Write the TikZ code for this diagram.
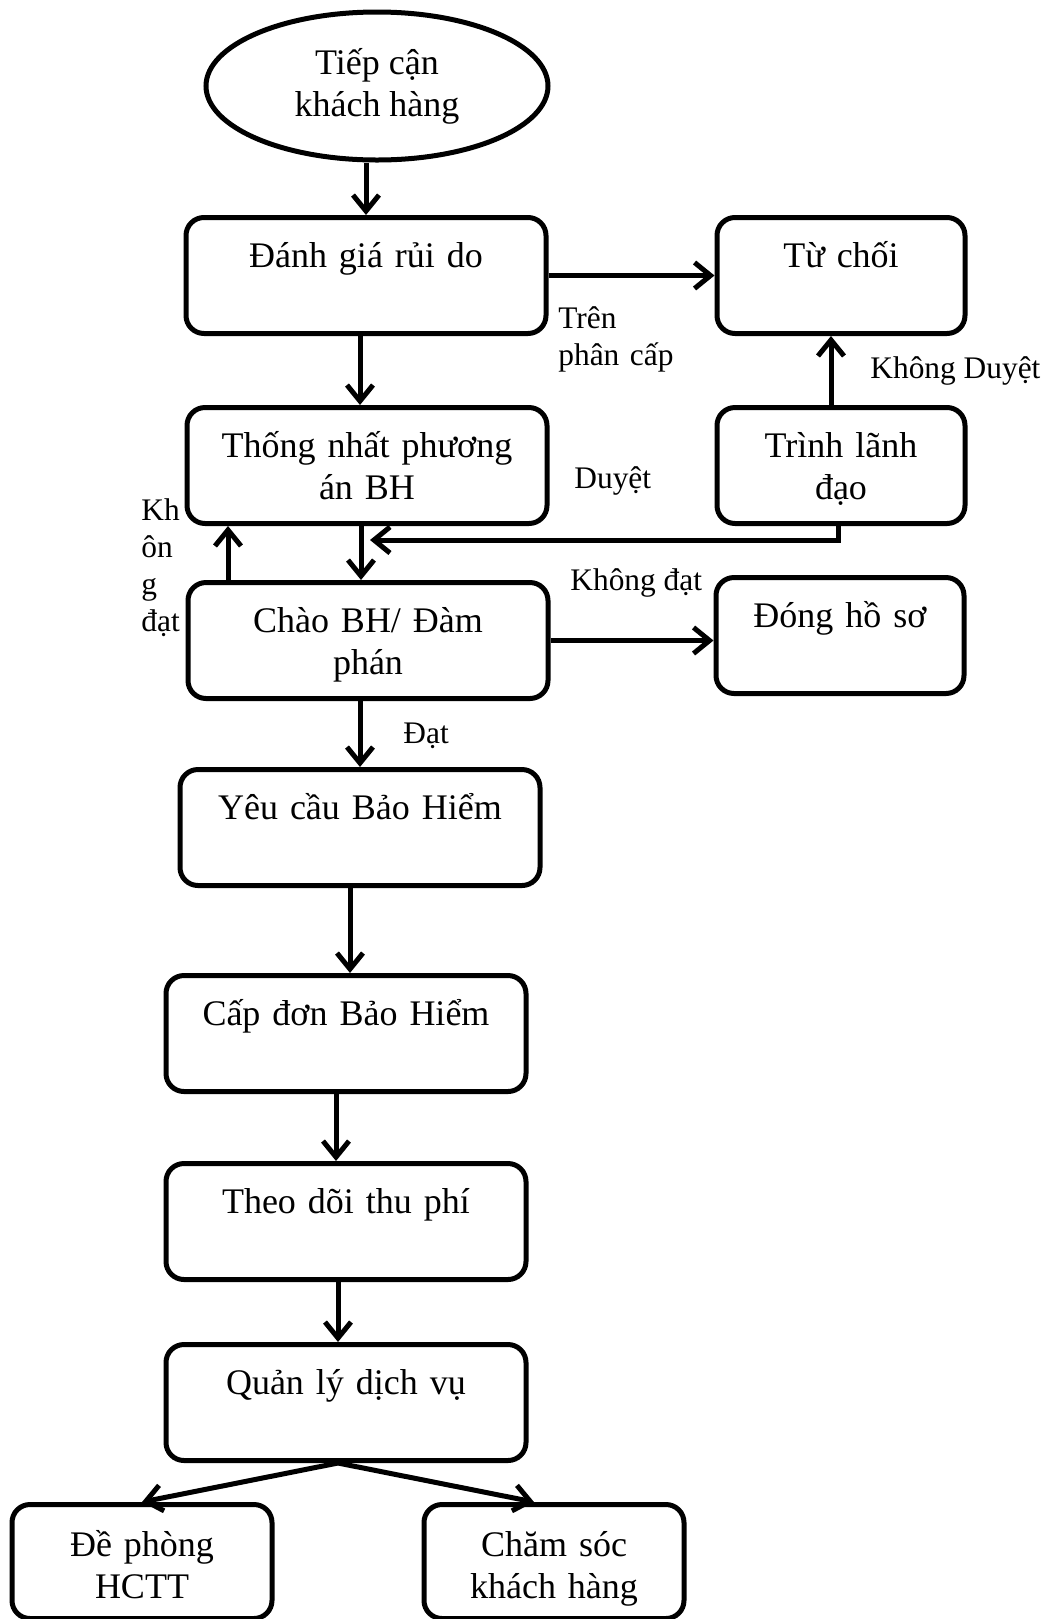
\documentclass[tikz,border=0pt]{standalone}
\usepackage{fontspec}
\setmainfont{Liberation Serif}
\usetikzlibrary{shapes.geometric,arrows.meta}
\newcommand{\stepfont}{\fontsize{18}{21}\selectfont}
\newcommand{\notefont}{\fontsize{15.7}{18.5}\selectfont}

\begin{document}
\begin{tikzpicture}
[x=0.5pt,y=-0.5pt,
 stepbox/.style={draw,line width=2.5pt,rounded corners=9pt,anchor=north,inner sep=0pt,
   align=center,text width=180pt,text height=25pt,text depth=33pt,font=\stepfont},
 sidebox/.style={stepbox,text width=124pt},
 flow/.style={line width=2.5pt,-{Straight Barb[length=8pt,width=13pt]}},
 lbl/.style={anchor=base west,inner sep=0pt,align=left,font=\notefont}]
\useasboundingbox (0,0) rectangle (1053,1619);
% boxes
\node[draw,ellipse,line width=2.5pt,minimum width=171pt,minimum height=74pt,inner sep=0pt,
  align=center,font=\stepfont] (tiepcan) at (377,86) {Tiếp cận\\khách hàng};
\node[stepbox] (danhgia) at (366,215) {Đánh giá rủi do};
\node[sidebox] (tuchoi) at (841,215) {Từ chối};
\node[stepbox] (thongnhat) at (367,405) {Thống nhất phương\\án BH};
\node[sidebox] (trinh) at (841,405) {Trình lãnh\\đạo};
\node[stepbox] (chao) at (368,580) {Chào BH/ Đàm\\phán};
\node[sidebox] (donghoso) at (840,575) {Đóng hồ sơ};
\node[stepbox] (yeucau) at (360,767) {Yêu cầu Bảo Hiểm};
\node[stepbox] (capdon) at (346,973) {Cấp đơn Bảo Hiểm};
\node[stepbox] (theodoi) at (346,1161) {Theo dõi thu phí};
\node[stepbox] (quanly) at (346,1342) {Quản lý dịch vụ};
\node[stepbox,text width=130pt,text height=26pt,text depth=31pt] (dephong) at (142,1502) {Đề phòng\\HCTT};
\node[stepbox,text width=130pt,text height=26pt,text depth=31pt] (chamsoc) at (554,1502) {Chăm sóc\\khách hàng};
% labels
\node[lbl,text width=60pt] (trenpc) at (558,328) {Trên\\phân cấp};
\node[lbl] (khongduyet) at (870,378) {Không Duyệt};
\node[lbl] (duyet) at (574,488) {Duyệt};
\node[lbl,text width=20pt] (khongdat1) at (141,520) {Kh\\ôn\\g\\đạt};
\node[lbl] (khongdat2) at (570,590) {Không đạt};
\node[lbl] (dat) at (403,743) {Đạt};
% arrows
\coordinate (join) at (370,540);
\draw[flow] (danhgia.north |- tiepcan.south) -- (danhgia.north);
\draw[flow] (danhgia.east) -- (tuchoi.west);
\draw[flow] ([xshift=-3pt]danhgia.south) -- ([xshift=-3pt]danhgia.south |- thongnhat.north);
\draw[flow] ([xshift=-5pt]trinh.north) -- ([xshift=-5pt]trinh.north |- tuchoi.south);
\draw[flow] ([xshift=-1.5pt]trinh.south) |- (join);
\draw[flow] ([xshift=-3pt]thongnhat.south) -- ([xshift=-3pt]thongnhat.south |- chao.north);
\draw[flow] ([xshift=-70pt]chao.north) -- ([xshift=-70pt]chao.north |- thongnhat.south);
\draw[flow] (chao.east) -- (chao.east -| donghoso.west);
\draw[flow] ([xshift=-4pt]chao.south) -- ([xshift=-4pt]chao.south |- yeucau.north);
\draw[flow] ([xshift=-5pt]yeucau.south) -- ([xshift=-5pt]yeucau.south |- capdon.north);
\draw[flow] ([xshift=-5pt]capdon.south) -- ([xshift=-5pt]capdon.south |- theodoi.north);
\draw[flow] ([xshift=-4pt]theodoi.south) -- ([xshift=-4pt]theodoi.south |- quanly.north);
\draw[flow] ([xshift=-4pt]quanly.south) -- (dephong.north);
\draw[flow] ([xshift=-4pt]quanly.south) -- ([xshift=-10pt]chamsoc.north);
\end{tikzpicture}
\end{document}
